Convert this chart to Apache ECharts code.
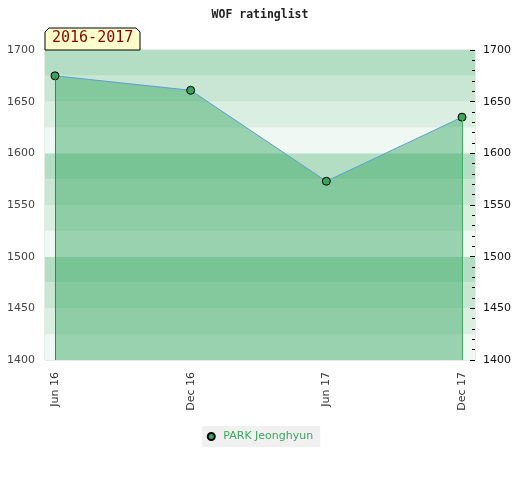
<!DOCTYPE html>
<html><head><meta charset="utf-8">
<script src="https://cdn.jsdelivr.net/npm/echarts@6/dist/echarts.min.js"></script>
<style>html,body{margin:0;padding:0;background:#fff}#c{width:520px;height:480px}</style>
</head><body><div id="c"></div>
<script>
const chartTitle = 'WOF ratinglist';
const periodLabel = '2016-2017';
const categories = ['Jun 16', 'Dec 16', 'Jun 17', 'Dec 17'];
const seriesName = 'PARK Jeonghyun';
const ratings = [1675, 1661, 1573, 1635];
const yMin = 1400, yMax = 1700, yLabelStep = 50, bandStep = 25;
const bandColors = ['#eff8f2', '#dbeee2', '#c8e6d3', '#b3dec3'];

const chart = echarts.init(document.getElementById('c'));
const last = ratings.length - 1;
const plain = v => String(v);
chart.setOption({
  animation: false,
  backgroundColor: '#fff',
  title: { text: chartTitle, left: 'center', top: 4,
    textStyle: { fontFamily: 'DejaVu Sans Mono', fontWeight: 'bold', fontSize: 11.5, color: '#222' } },
  graphic: [
    { type: 'polygon', shape: { points: [[45,50],[45,32],[49,28],[136,28],[140,32],[140,50]] },
      style: { fill: '#ffffcc', stroke: '#000', lineWidth: 1 }, z: 10 },
    { type: 'text', left: 52, top: 31, style: { text: periodLabel, fill: '#8b0000',
      font: '15px "DejaVu Sans Mono"' }, z: 11 }
  ],
  legend: { bottom: 33, left: 'center', backgroundColor: '#f0f0f0', padding: [5, 7, 5, 5],
    icon: 'circle', itemWidth: 14, itemHeight: 7, itemGap: 10,
    textStyle: { color: '#3aa75f', fontSize: 11, fontFamily: 'DejaVu Sans' } },
  grid: [
    { left: 45, right: 45, top: 50, height: 310, show: true, borderColor: '#d4d4d4', borderWidth: 1 },
    { left: 55, right: 58, top: 50, height: 310 }
  ],
  xAxis: [
    { gridIndex: 0, type: 'category', data: [''], show: false },
    { gridIndex: 1, type: 'category', data: categories, boundaryGap: false,
      axisLine: { show: false }, axisTick: { show: false },
      axisLabel: { rotate: 90, margin: 12, color: '#333', fontSize: 11, fontFamily: 'DejaVu Sans' } }
  ],
  yAxis: [
    { gridIndex: 0, type: 'value', min: yMin, max: yMax, interval: yLabelStep, position: 'left',
      axisLine: { show: false }, axisTick: { show: false }, splitLine: { show: false },
      axisLabel: { margin: 10, color: '#444', fontSize: 11, fontFamily: 'DejaVu Sans', formatter: plain } },
    { gridIndex: 0, type: 'value', min: yMin, max: yMax, interval: yLabelStep, position: 'right',
      axisLine: { show: false }, splitLine: { show: false },
      axisTick: { show: true, inside: true, length: 5, lineStyle: { color: '#000' } },
      minorTick: { show: true, splitNumber: 5, length: 3, lineStyle: { color: '#000' } },
      axisLabel: { margin: 8, color: '#111', fontSize: 11, fontFamily: 'DejaVu Sans', formatter: plain } },
    { gridIndex: 0, type: 'value', min: yMin, max: yMax, interval: bandStep,
      axisLine: { show: false }, axisTick: { show: false }, axisLabel: { show: false },
      splitLine: { show: false }, splitArea: { show: true, areaStyle: { color: bandColors } } },
    { gridIndex: 1, type: 'value', min: yMin, max: yMax, show: false }
  ],
  series: [{
    name: seriesName, type: 'line', xAxisIndex: 1, yAxisIndex: 3,
    data: ratings,
    symbol: 'circle', symbolSize: 8,
    itemStyle: { color: '#3aa35f', borderColor: '#000', borderWidth: 1 },
    lineStyle: { color: '#5b9fd8', width: 1 },
    areaStyle: { color: '#38a761', opacity: 0.47, origin: 'start' },
    markLine: { silent: true, symbol: 'none', label: { show: false },
      data: [
        [{ coord: [0, ratings[0]], lineStyle: { color: '#2e8b57', width: 1, type: 'solid' } }, { coord: [0, yMin] }],
        [{ coord: [last, ratings[last]], lineStyle: { color: '#3cb35e', width: 1, type: 'solid' } }, { coord: [last, yMin] }]
      ] }
  }]
});
</script></body></html>
